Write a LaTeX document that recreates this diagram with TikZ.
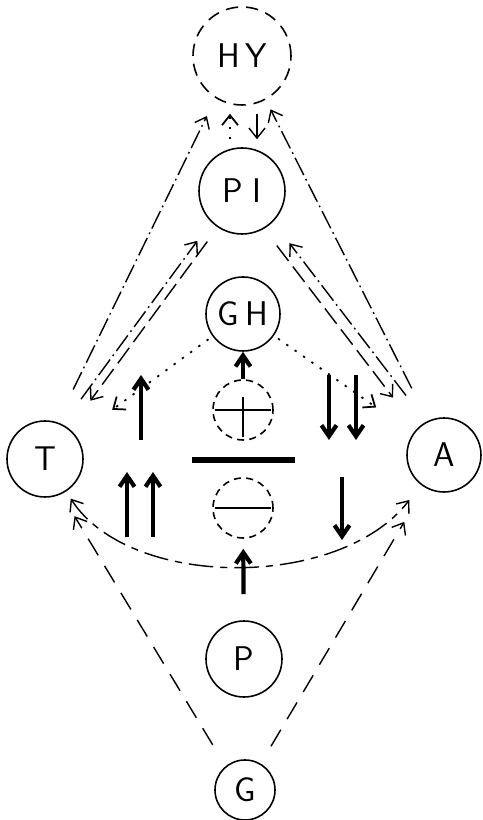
\documentclass[tikz,border=0pt]{standalone}
\usepackage{fontspec}
\usepackage{tikz}
\usetikzlibrary{arrows.meta, positioning}

\begin{document}
\begin{tikzpicture}[
  ring/.style={circle, draw, line width=0.9pt, inner sep=0pt, font=\sffamily\fontsize{19.5}{20}\selectfont},
  dashring/.style={ring, dash pattern=on 7pt off 4.5pt},
  smallring/.style={circle, draw, line width=0.9pt, inner sep=0pt, minimum size=1.2cm, dash pattern=on 4pt off 3pt},
  heavy/.style={line width=2.4pt, -{Straight Barb[length=2.2mm, width=3mm]}},
  openhead/.style={-{Straight Barb[length=2mm, width=3.2mm]}},
  dotdash/.style={line width=0.8pt, dash pattern=on 11pt off 2.5pt on 1pt off 2.5pt},
  dashline/.style={line width=0.8pt, dash pattern=on 11pt off 4pt},
  longdash/.style={line width=0.8pt, dash pattern=on 11pt off 7pt},
  dotline/.style={line width=1pt, dash pattern=on 1.3pt off 4.5pt},
  swing/.style={line width=0.8pt, dash pattern=on 14pt off 4pt on 4pt off 4pt},
]
  \useasboundingbox (0,0) rectangle (9.64,16.4);

  % Circles
  \node[dashring, minimum size=1.96cm] (HY) at (4.84,15.28) {H\kern3pt Y};
  \node[ring, minimum size=1.72cm] (PI) at (4.84,12.58) {P\kern5pt I};
  \node[ring, minimum size=1.48cm] (GH) at (4.86,10.12) {G\kern4pt H};
  \node[smallring] (plus) at (4.86,8.20) {};
  \node[smallring] (minus) at (4.86,6.24) {};
  \node[ring, minimum size=1.52cm] (P) at (4.88,3.22) {P};
  \node[ring, minimum size=1.2cm] (G) at (4.90,0.60) {G};
  \node[ring, minimum size=1.52cm] (T) at (0.90,7.22) {T};
  \node[ring, minimum size=1.48cm] (A) at (8.88,7.30) {A};

  % Signs and bar
  \draw[line width=0.9pt] ([xshift=-0.56cm]plus.center) -- ([xshift=0.56cm]plus.center);
  \draw[line width=0.9pt] ([yshift=0.26cm]plus.center) -- ([yshift=-0.54cm]plus.center);
  \draw[line width=0.9pt] ([xshift=-0.56cm]minus.center) -- ([xshift=0.56cm]minus.center);
  \draw[line width=3.2pt] (3.84,7.2) -- (5.90,7.2);

  % Thick arrows
  \draw[heavy] (plus) -- (GH);
  \draw[heavy, shorten <=0.52cm, shorten >=0.2cm] (P) -- (minus);
  \coordinate (lfoot) at (2.82,7.6);
  \coordinate (lhead) at (2.82,8.9);
  \draw[heavy] (lfoot) -- (lhead);
  \foreach \x/\n in {2.54/a, 3.06/b} {
    \coordinate (lowfoot\n) at (\x,5.66);
    \coordinate (lowhead\n) at (\x,6.96);
    \draw[heavy] (lowfoot\n) -- (lowhead\n);
  }
  \foreach \x/\n in {6.58/a, 7.12/b} {
    \coordinate (rfoot\n) at (\x,8.9);
    \coordinate (rhead\n) at (\x,7.6);
    \draw[heavy] (rfoot\n) -- (rhead\n);
  }
  \coordinate (lowrfoot) at (6.84,6.86);
  \coordinate (lowrhead) at (6.84,5.6);
  \draw[heavy] (lowrfoot) -- (lowrhead);

  % HY and PI
  \draw[dotline, openhead, shorten <=0.16cm, shorten >=0.16cm, transform canvas={xshift=-0.24cm}] (PI) -- (HY);
  \draw[line width=0.8pt, openhead, shorten <=0.16cm, shorten >=0.16cm, transform canvas={xshift=0.3cm}] (HY) -- (PI);

  % Left side lines
  \draw[dotdash, openhead, shorten <=0.77cm, shorten >=0.34cm, transform canvas={xshift=-0.116cm}] (T) -- (HY);
  \draw[dotdash, openhead, shorten <=0.71cm, shorten >=0.36cm, transform canvas={xshift=-0.16cm}] (T) -- (PI);
  \draw[dashline, openhead, shorten <=0.38cm, shorten >=0.67cm, transform canvas={xshift=0.05cm}] (PI) -- (T);

  % Right side lines
  \draw[dotdash, openhead, shorten <=0.74cm, shorten >=0.2cm, transform canvas={xshift=0.03cm}] (A) -- (HY);
  \draw[dotdash, openhead, shorten <=0.74cm, shorten >=0.44cm, transform canvas={xshift=0.15cm}] (A) -- (PI);
  \draw[dashline, openhead, shorten <=0.5cm, shorten >=0.69cm, transform canvas={xshift=-0.14cm}] (PI) -- (A);

  % Dotted from GH
  \draw[dotline, openhead, shorten <=0.1cm, shorten >=0.89cm] (GH) -- (T);
  \draw[dotline, openhead, shorten <=0.1cm, shorten >=0.9cm] (GH) -- (A);

  % From G
  \draw[longdash, openhead, shorten <=0.44cm, shorten >=0.56cm, transform canvas={xshift=-0.1cm}] (G) -- (T);
  \draw[longdash, openhead, shorten <=0.4cm, shorten >=0.8cm] (G) -- (A);

  % T -- A curve
  \draw[swing, {Straight Barb[length=2mm, width=3.2mm]}-{Straight Barb[length=2mm, width=3.2mm]}, shorten <=0.17cm, shorten >=0.38cm] (T) .. controls (2.6,4.6) and (6.8,4.6) .. (A);

\end{tikzpicture}
\end{document}
